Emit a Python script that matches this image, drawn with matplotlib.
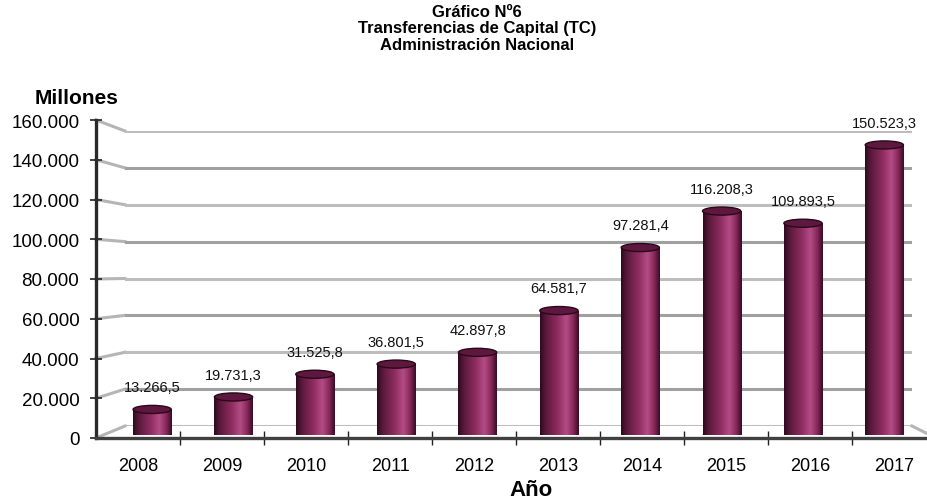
import numpy as np
import matplotlib.pyplot as plt
from matplotlib.patches import Ellipse
from matplotlib.lines import Line2D
from matplotlib.colors import LinearSegmentedColormap
from matplotlib.ticker import FuncFormatter, MultipleLocator
from matplotlib.transforms import IdentityTransform

plt.rcParams['font.family'] = ['Liberation Sans', 'DejaVu Sans']

years = ['2008', '2009', '2010', '2011', '2012', '2013', '2014', '2015', '2016', '2017']
values = [13266.5, 19731.3, 31525.8, 36801.5, 42897.8, 64581.7, 97281.4, 116208.3, 109893.5, 150523.3]
ymax = 160000
ystep = 20000

W, H = 927, 502


def px(x0, y_bottom, w, h):
    # caja en pixeles (origen arriba-izq) -> fraccion de figura
    return [x0 / W, (H - y_bottom) / H, w / W, h / H]


def miles(v, pos=None):
    return '{:,.0f}'.format(v).replace(',', '.')


def etiqueta(v):
    s = '{:,.1f}'.format(v)
    return s.replace(',', 'X').replace('.', ',').replace('X', '.')


fig = plt.figure(figsize=(W / 100, H / 100), dpi=100)

# pared del fondo con lineas de grilla
bw = fig.add_axes(px(125, 427, 787, 295))
bw.set_xlim(0, 1)
bw.set_ylim(0, ymax)
bw.axis('off')
levels = np.arange(0, ymax + 1, ystep)
for i, lv in enumerate(levels):
    col = '#a0a0a0' if i % 2 else '#bdbdbd'
    bw.axhline(lv, color=col, lw=2.2, zorder=1)

# ejes del frente
ax = fig.add_axes(px(96, 439, 840, 318))
ax.set_xlim(0, len(years))
ax.set_ylim(0, ymax)
ax.patch.set_alpha(0)
for s in ['top', 'right']:
    ax.spines[s].set_visible(False)
ax.spines['left'].set_color('#2a2a2a')
ax.spines['left'].set_linewidth(2.4)
ax.spines['bottom'].set_color('#404040')
ax.spines['bottom'].set_linewidth(2.4)
ax.yaxis.set_major_locator(MultipleLocator(ystep))
ax.yaxis.set_major_formatter(FuncFormatter(miles))
ax.tick_params(axis='y', direction='inout', length=8, width=1.2, color='#222222',
               labelsize=13.5, pad=8)
ax.set_xticks(np.arange(len(years)) + 0.5)
ax.set_xticklabels(years)
ax.set_xticks(np.arange(1, len(years)), minor=True)
ax.tick_params(axis='x', which='major', length=0, labelsize=13, pad=14)
ax.tick_params(axis='x', which='minor', direction='inout', length=10, width=1, color='#222222')

# conectores en perspectiva
for i, lv in enumerate(levels):
    p0 = ax.transData.transform((0, lv))
    p1 = bw.transData.transform((0, lv))
    fig.add_artist(Line2D([p0[0], p1[0]], [p0[1], p1[1]], transform=IdentityTransform(),
                          color='#b5b5b5', lw=2.2, zorder=0))
p0 = ax.transData.transform((len(years), 0))
p1 = bw.transData.transform((1, 0))
fig.add_artist(Line2D([p0[0], p1[0]], [p0[1], p1[1]], transform=IdentityTransform(),
                      color='#b5b5b5', lw=2.2, zorder=0))

# barras cilindricas
bx = fig.add_axes(px(111.5, 436, 813.5, 308.3))
bx.set_xlim(0, len(years))
bx.set_ylim(0, ymax)
bx.axis('off')

cyl = LinearSegmentedColormap.from_list('cyl', [
    (0.0, '#2e0a1e'), (0.15, '#5a1a3c'), (0.45, '#8e2c60'),
    (0.68, '#b44c86'), (0.85, '#8a2a5c'), (1.0, '#3a0c26')])
grad = np.linspace(0, 1, 100).reshape(1, -1)
bw_ = 0.47
eh = 4200
xs = np.arange(len(years)) + 0.5
bars = bx.bar(xs, values, width=bw_, color='none', zorder=3)
for x, v, rect in zip(xs, values, bars):
    bx.add_patch(Ellipse((x, 0), bw_, eh, facecolor='#22061a', edgecolor='none', zorder=2))
    im = bx.imshow(grad, cmap=cyl, aspect='auto', extent=(x - bw_ / 2, x + bw_ / 2, 0, v),
                   zorder=3, interpolation='bicubic')
    im.set_clip_path(rect)
    bx.add_patch(Ellipse((x, v), bw_, eh, facecolor='#5e1840', edgecolor='#2a0818',
                         lw=1, zorder=4))
    bx.annotate(etiqueta(v), (x, v), xytext=(0, 16), textcoords='offset points',
                ha='center', va='center', fontsize=10.5, color='#111111', zorder=5)
bx.set_xlim(0, len(years))
bx.set_ylim(0, ymax)

fig.text(477 / W, 1 - 29 / H, 'Gráfico Nº6\nTransferencias de Capital (TC)\nAdministración Nacional',
         ha='center', va='center', fontsize=12, fontweight='bold', linespacing=1.15)
fig.text(77 / W, 1 - 99 / H, 'Millones', ha='center', va='center', fontsize=15, fontweight='bold')
fig.text(531 / W, 1 - 491 / H, 'Año', ha='center', va='center', fontsize=16, fontweight='bold')

fig.savefig('out.png', dpi=100)
